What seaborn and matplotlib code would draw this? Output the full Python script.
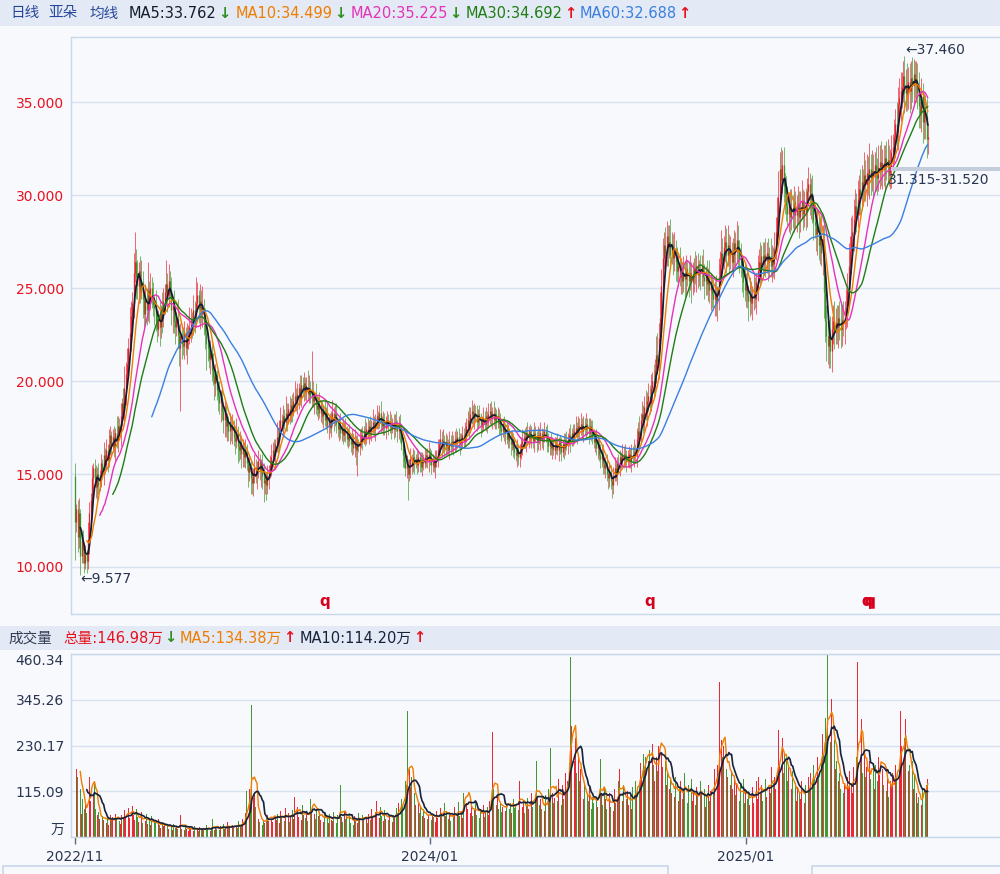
import numpy as np
import pandas as pd
import matplotlib
matplotlib.use("Agg")
import matplotlib.pyplot as plt
import matplotlib.patheffects as pe
import seaborn as sns
from matplotlib.patches import Rectangle

# ---------------- data ----------------
CLOSE = [
    12.4, 13.1, 11.6, 12.9, 10.6, 11.4, 10.9, 10.2, 10.7, 10.3,
    11.5, 12.9, 13.6, 14.8, 15.3, 14.7, 14.3, 15.0, 14.4, 14.9,
    15.6, 15.2, 16.0, 15.5, 16.3, 15.8, 16.6, 17.1, 16.5, 17.0,
    16.4, 17.2, 16.8, 17.6, 17.3, 18.1, 18.8, 18.4, 19.6, 20.4,
    20.9, 21.8, 22.6, 23.5, 24.2, 25.8, 26.4, 25.6, 25.1, 25.9,
    24.8, 25.3, 24.4, 23.6, 24.3, 23.8, 24.9, 24.2, 25.0, 24.6,
    24.1, 23.9, 23.2, 22.8, 23.5, 22.9, 23.6, 23.4, 24.3, 24.8,
    25.2, 24.6, 25.4, 24.9, 23.8, 24.1, 23.2, 22.9, 23.4, 22.5,
    21.8, 22.4, 22.0, 21.9, 22.6, 21.8, 22.3, 22.5, 22.9, 23.3,
    23.0, 23.8, 23.5, 24.2, 24.6, 23.9, 24.3, 23.6, 23.9, 23.1,
    22.6, 22.0, 21.8, 21.2, 21.5, 20.6, 20.2, 19.9, 20.3, 19.5,
    19.2, 18.8, 19.1, 18.4, 17.9, 18.3, 17.6, 17.8, 17.3, 17.7,
    17.4, 17.6, 17.0, 16.8, 17.2, 16.5, 16.3, 16.7, 16.1, 16.4,
    15.9, 16.2, 15.6, 15.1, 15.4, 14.8, 14.5, 14.9, 15.3, 15.0,
    15.4, 15.7, 15.2, 15.6, 14.9, 14.5, 14.7, 14.4, 14.9, 15.2,
    15.5, 15.9, 16.3, 16.0, 16.6, 17.0, 16.8, 17.5, 17.9, 17.6,
    18.1, 17.8, 18.3, 18.0, 18.5, 18.2, 18.7, 18.4, 18.9, 19.2,
    18.8, 19.3, 19.6, 19.1, 19.8, 19.5, 19.9, 19.4, 19.7, 19.3,
    19.6, 19.2, 19.4, 18.9, 19.1, 18.7, 18.5, 18.8, 18.3, 18.5,
    18.1, 18.4, 17.9, 18.2, 17.6, 17.8, 17.5, 18.0, 18.3, 17.9,
    18.2, 17.7, 17.4, 17.6, 17.2, 17.5, 17.1, 17.4, 17.3, 16.9,
    17.1, 16.8, 16.6, 16.9, 16.4, 16.7, 16.3, 16.6, 16.5, 16.8,
    17.1, 16.9, 17.3, 17.0, 17.4, 17.2, 17.6, 17.3, 17.5, 17.8,
    17.4, 17.7, 18.1, 17.9, 18.3, 17.8, 17.6, 17.9, 17.5, 17.8,
    17.9, 17.6, 17.8, 17.5, 17.7, 17.4, 17.8, 17.6, 17.3, 17.7,
    17.2, 16.6, 16.0, 15.7, 15.3, 15.5, 15.0, 15.4, 15.8, 15.5,
    15.9, 15.6, 15.8, 15.5, 15.9, 15.7, 15.4, 15.8, 15.6, 15.9,
    16.0, 15.7, 16.1, 15.8, 15.5, 15.7, 15.4, 15.8, 15.9, 16.3,
    16.6, 16.9, 16.5, 16.8, 16.4, 16.7, 16.6, 16.3, 16.7, 16.5,
    16.8, 16.6, 16.9, 16.7, 17.0, 16.8, 16.6, 16.9, 17.1, 16.8,
    17.2, 17.6, 17.9, 17.5, 18.2, 18.4, 18.0, 18.3, 18.1, 17.8,
    18.2, 17.9, 17.6, 17.8, 18.0, 17.7, 18.1, 17.8, 18.2, 18.4,
    18.0, 18.3, 17.9, 18.2, 17.8, 18.1, 17.7, 17.5, 17.3, 17.6,
    17.2, 17.4, 16.9, 17.1, 16.8, 16.6, 16.9, 16.4, 16.2, 16.0,
    16.3, 15.9, 16.1, 16.6, 16.8, 17.0, 16.7, 17.2, 17.0, 17.3,
    16.9, 17.1, 16.8, 17.2, 17.0, 16.7, 17.1, 16.9, 17.2, 16.8,
    17.0, 17.3, 17.1, 16.8, 16.5, 16.7, 16.4, 16.6, 16.3, 16.5,
    16.6, 16.3, 16.7, 16.5, 16.2, 16.6, 16.4, 16.8, 16.6, 16.9,
    17.1, 16.8, 17.2, 17.0, 17.3, 17.5, 17.2, 17.6, 17.4, 17.7,
    17.3, 17.6, 17.4, 17.7, 17.5, 17.2, 17.6, 17.3, 17.0, 16.7,
    16.9, 16.4, 16.6, 16.0, 15.8, 16.1, 15.6, 15.3, 15.5, 15.0,
    14.8, 15.1, 14.6, 14.4, 14.9, 15.3, 15.0, 15.6, 15.4, 15.9,
    15.7, 16.1, 15.8, 16.0, 15.7, 15.8, 16.1, 15.7, 16.0, 15.9,
    16.2, 16.0, 16.9, 17.3, 17.1, 17.9, 18.2, 17.8, 18.6, 18.3,
    18.9, 19.2, 18.8, 19.6, 20.0, 19.7, 20.6, 21.4, 21.0, 22.3,
    23.4, 25.1, 26.6, 27.3, 26.9, 27.8, 27.2, 27.5, 26.8, 27.3,
    26.6, 27.1, 26.4, 25.9, 26.2, 25.6, 25.9, 25.4, 25.8, 25.5,
    26.0, 25.7, 25.4, 25.8, 25.3, 25.6, 26.1, 25.8, 26.2, 25.7,
    26.0, 25.8, 26.2, 25.6, 25.4, 25.7, 25.2, 25.5, 24.9, 25.1,
    24.7, 24.4, 24.8, 24.2, 24.6, 25.6, 26.3, 26.9, 26.5, 27.2,
    27.5, 26.8, 27.3, 26.7, 27.0, 26.4, 26.8, 27.4, 27.1, 27.6,
    27.0, 26.5, 26.2, 25.8, 25.3, 24.9, 25.2, 24.6, 24.3, 24.7,
    24.2, 24.5, 24.8, 24.4, 25.3, 25.9, 26.4, 26.0, 26.7, 26.3,
    26.8, 26.5, 26.9, 26.4, 26.7, 26.2, 26.6, 26.3, 27.1, 28.0,
    28.8, 29.9, 31.4, 30.8, 31.6, 30.5, 30.1, 29.4, 29.0, 29.5,
    28.8, 29.3, 29.0, 29.6, 28.9, 29.2, 29.5, 28.8, 29.3, 29.7,
    29.0, 29.4, 29.1, 30.2, 30.6, 29.8, 30.1, 29.3, 28.6, 28.4,
    27.9, 28.2, 27.3, 27.8, 26.9, 27.6, 24.8, 23.2, 22.4, 21.9,
    22.5, 21.6, 22.8, 23.2, 22.7, 23.1, 22.9, 23.4, 23.0, 22.8,
    23.3, 23.1, 23.6, 23.9, 24.9, 26.2, 27.0, 27.8, 28.0, 28.7,
    29.4, 29.0, 29.8, 30.3, 30.0, 30.7, 30.4, 31.1, 30.6, 31.2,
    30.8, 31.4, 30.9, 31.3, 31.0, 31.6, 31.2, 30.9, 31.5, 31.8,
    31.3, 31.7, 31.4, 32.0, 31.6, 31.9, 31.2, 31.5, 32.3, 32.6,
    33.1, 33.8, 33.4, 34.9, 35.2, 35.6, 35.8, 36.4, 35.5, 35.9,
    35.4, 36.1, 35.6, 36.3, 35.9, 36.5, 36.0, 36.2, 35.5, 34.8,
    34.4, 35.3, 33.9, 34.6, 34.2, 33.0, 33.1,
]
FIRST_OPEN = 14.9

# upper / lower shadow lengths in tenths of a yuan
UPPER_WICK = [
    7,3,5,8,2,4,6,3,5,2, 9,6,4,7,3,5,8,4,6,3, 5,2,7,4,6,3,8,5,2,4,
    6,3,9,5,4,7,3,8,12,6, 9,5,14,8,6,11,16,7,9,5, 8,12,6,4,9,7,15,5,8,6,
    7,4,10,6,3,8,5,12,7,4, 13,6,9,5,7,4,8,6,3,10, 5,7,4,9,6,3,8,5,11,6,
    4,8,5,14,7,3,9,6,12,5, 8,4,6,3,7,5,9,4,6,3, 5,8,4,6,3,7,4,5,3,6,
    4,6,3,5,8,4,3,6,4,5, 3,7,4,2,5,3,6,4,8,5, 3,6,4,2,5,7,3,4,6,3,
    5,7,4,6,3,8,5,4,7,3, 6,4,9,5,3,7,4,6,5,8, 4,6,3,7,5,4,6,3,5,9,
    7,4,22,6,3,8,5,3,6,4, 5,3,7,4,6,3,5,4,7,3, 5,6,3,4,7,3,5,4,6,3,
    4,6,3,5,3,7,4,5,3,6, 4,5,3,7,4,6,3,5,4,7, 3,5,6,3,4,6,3,5,4,3,
    5,3,6,4,3,5,4,6,3,4, 5,3,4,6,3,5,3,4,6,3, 5,4,3,6,4,3,5,4,3,5,
    3,4,6,3,5,4,3,5,4,6, 3,5,4,6,3,5,4,3,6,4, 5,3,4,6,3,5,4,3,5,4,
    6,4,5,7,4,6,3,5,4,6, 3,5,4,3,6,4,5,3,6,4, 5,3,6,4,3,5,4,6,3,4,
    5,3,4,6,3,5,4,3,5,4, 6,3,5,4,6,3,5,4,6,3, 4,5,3,6,4,3,5,4,6,3,
    4,5,3,6,4,3,5,4,3,5, 4,6,3,4,5,3,6,4,5,3, 4,6,3,5,4,6,3,5,4,6,
    3,5,4,6,3,5,4,3,6,4, 3,5,4,3,6,4,5,3,4,6, 3,5,4,3,5,6,4,3,5,4,
    3,5,4,6,3,5,4,3,6,5, 7,4,6,5,8,4,7,5,6,9, 5,7,6,8,5,9,6,10,12,8,
    14,9,11,7,10,8,6,9,12,7, 6,9,5,8,6,10,7,5,9,6, 8,5,7,10,6,8,5,9,6,7,
    5,8,6,9,7,5,8,6,10,7, 5,8,6,9,5,10,7,12,8,6, 9,7,11,6,8,5,9,7,6,10,
    8,6,9,5,7,10,6,8,5,9, 7,6,10,8,5,9,7,11,6,8, 7,9,6,8,5,10,7,6,9,8,
    11,14,9,12,8,10,7,9,11,6, 8,10,7,9,6,8,10,7,9,11, 6,8,10,7,9,6,8,10,7,9,
    8,10,7,9,11,8,10,12,9,11, 8,10,7,9,11,8,10,7,9,12, 8,10,7,11,9,12,8,10,9,11,
    9,7,10,8,11,9,7,12,8,10, 9,14,8,11,9,7,10,8,12,9, 11,8,10,7,9,11,8,10,9,7,
    10,8,12,9,11,10,8,8,19,9, 12,8,10,9,11,8,7,10,9,11, 8,10,7,9,8,10,7,
]
LOWER_WICK = [
    20,5,8,6,10,4,7,5,3,6, 4,8,5,3,7,4,6,9,5,3, 6,4,8,5,3,7,4,6,5,3,
    5,7,4,6,3,8,5,4,6,9, 5,7,4,10,6,8,5,12,7,9, 6,4,10,7,5,8,6,11,4,7,
    6,9,5,7,4,10,6,8,5,7, 4,9,6,5,8,12,6,9,5,7, 10,34,8,5,7,4,9,6,5,8,
    7,5,9,6,4,8,11,5,7,6, 9,14,7,5,8,6,4,9,7,5, 8,6,10,5,7,9,6,8,5,7,
    6,8,5,7,4,9,6,5,8,7, 5,6,4,8,5,9,6,7,4,5, 8,6,5,9,7,10,6,8,5,7,
    4,6,5,3,7,4,6,5,4,3, 6,4,5,7,3,5,4,6,3,5, 4,6,8,4,5,3,6,4,5,3,
    5,4,6,3,7,5,4,6,3,5, 4,6,3,5,4,7,3,5,4,6, 3,5,4,6,3,4,5,3,6,4,
    5,3,4,6,3,5,8,14,3,5, 4,6,3,5,4,3,6,4,5,3, 4,6,3,5,4,6,3,5,4,6,
    3,5,4,6,3,5,4,3,6,4, 5,3,6,4,4,5,14,4,6,5, 4,6,3,5,4,6,3,5,4,3,
    5,4,6,3,5,4,3,6,4,5, 3,4,6,3,5,4,6,3,5,4, 3,6,4,5,3,4,6,3,5,4,
    3,5,4,6,3,5,4,6,3,5, 4,3,6,4,5,3,4,6,3,5, 4,6,3,5,4,3,6,4,5,3,
    4,6,3,5,4,6,3,5,4,3, 6,4,5,3,6,4,3,5,4,6, 3,5,4,6,3,5,4,3,6,4,
    5,3,4,6,3,5,4,6,3,5, 4,3,6,4,5,3,6,4,3,5, 4,6,3,5,4,3,6,4,5,3,
    4,6,3,5,4,6,3,5,4,3, 5,4,6,3,5,4,6,3,5,4, 6,5,4,7,5,3,4,6,3,5,
    4,3,5,4,6,3,5,4,6,3, 5,4,6,3,7,5,4,6,5,4, 7,5,6,4,8,6,5,7,6,9,
    7,10,8,6,9,7,10,6,8,5, 9,7,10,6,8,5,9,7,6,10, 8,6,9,5,11,7,8,6,10,7,
    6,9,7,5,10,8,6,9,7,11, 8,6,9,7,10,8,6,9,7,5, 8,10,6,9,7,5,8,6,10,7,
    9,7,6,10,8,6,9,7,11,8, 6,9,7,5,8,10,6,9,7,8, 6,9,7,10,8,6,9,7,8,6,
    7,9,8,10,7,9,11,8,6,10, 9,7,8,10,6,9,7,11,8,6, 9,7,10,8,6,9,11,8,10,7,
    9,11,8,10,7,12,14,11,13,10, 12,9,11,8,10,7,9,11,8,10, 9,7,11,8,10,9,7,12,8,10,
    8,10,7,9,11,8,10,7,9,12, 8,10,9,7,11,8,10,9,7,12, 8,10,9,11,8,10,7,9,11,8,
    9,11,8,10,7,12,9,8,11,10, 9,8,12,10,9,11,8,10,9,12, 8,10,11,9,12,10,8,
]
HIGH_MARK = (638, 37.460)
LOW_MARK = (4, 9.577)

# volume, unit: 万 (10k shares)
VOLUME = [
    187, 172, 150, 197, 120, 58, 95, 70, 85, 60,
    110, 152, 90, 215, 105, 134, 70, 55, 62, 45,
    38, 52, 44, 60, 35, 48, 30, 56, 42, 50,
    36, 58, 45, 62, 40, 33, 55, 47, 68, 52,
    60, 72, 48, 65, 78, 55, 42, 70, 50, 38,
    45, 62, 35, 50, 40, 58, 33, 47, 30, 52,
    28, 40, 35, 25, 45, 30, 22, 38, 27, 33,
    24, 30, 20, 35, 26, 18, 32, 22, 28, 19,
    25, 55, 21, 30, 18, 26, 20, 16, 24, 19,
    22, 15, 28, 18, 21, 14, 25, 17, 20, 23,
    16, 30, 19, 24, 15, 22, 45, 18, 26, 20,
    23, 17, 28, 21, 32, 19, 25, 38, 22, 27,
    20, 30, 24, 35, 28, 22, 40, 26, 33, 45,
    38, 60, 115, 85, 120, 95, 331, 99, 110, 75,
    60, 45, 38, 52, 30, 42, 35, 48, 55, 40,
    62, 45, 38, 70, 50, 42, 58, 36, 65, 48,
    55, 40, 72, 46, 60, 38, 52, 68, 45, 100,
    58, 76, 50, 62, 44, 80, 55, 48, 66, 40,
    72, 95, 60, 130, 58, 45, 70, 52, 64, 42,
    55, 38, 60, 47, 52, 36, 58, 44, 40, 62,
    48, 35, 55, 42, 130, 50, 38, 62, 45, 54,
    40, 58, 35, 48, 30, 52, 42, 36, 60, 45,
    38, 55, 42, 65, 48, 36, 58, 44, 70, 50,
    46, 62, 90, 55, 48, 75, 52, 40, 68, 45,
    58, 42, 50, 65, 38, 55, 48, 72, 60, 85,
    70, 95, 80, 110, 140, 130, 316, 170, 125, 150,
    95, 110, 80, 70, 88, 60, 75, 52, 68, 48,
    62, 45, 55, 70, 42, 58, 50, 38, 65, 47,
    55, 72, 60, 48, 85, 52, 66, 45, 58, 40,
    62, 50, 75, 45, 58, 88, 52, 66, 48, 110,
    200, 85, 70, 95, 60, 78, 52, 68, 90, 55,
    72, 48, 65, 58, 80, 50, 62, 75, 55, 90,
    110, 263, 120, 95, 80, 105, 70, 88, 62, 75,
    90, 65, 78, 110, 70, 85, 60, 95, 72, 80,
    105, 68, 140, 85, 75, 92, 60, 78, 98, 70,
    85, 110, 75, 120, 90, 190, 100, 80, 95, 70,
    88, 65, 105, 78, 120, 95, 225, 110, 85, 98,
    120, 90, 145, 105, 80, 130, 95, 160, 110, 140,
    200, 453, 280, 230, 190, 250, 160, 210, 140, 170,
    120, 95, 135, 80, 110, 90, 125, 70, 100, 85,
    115, 90, 75, 130, 195, 105, 80, 120, 95, 70,
    88, 110, 75, 98, 65, 120, 85, 100, 140, 170,
    110, 90, 130, 75, 95, 115, 80, 105, 70, 125,
    95, 140, 110, 165, 130, 185, 150, 210, 175, 200,
    258, 190, 220, 160, 235, 180, 140, 200, 165, 230,
    377, 210, 175, 150, 190, 130, 160, 120, 145, 110,
    135, 100, 150, 115, 90, 125, 140, 95, 110, 160,
    120, 85, 130, 100, 145, 90, 115, 80, 125, 105,
    95, 140, 110, 85, 120, 75, 105, 130, 90, 115,
    150, 110, 170, 135, 180, 160, 390, 245, 200, 230,
    190, 170, 150, 210, 130, 165, 120, 145, 105, 135,
    115, 90, 130, 100, 145, 85, 120, 95, 110, 80,
    100, 125, 85, 115, 140, 95, 150, 110, 130, 90,
    120, 145, 100, 160, 125, 110, 175, 135, 150, 120,
    200, 270, 180, 230, 250, 160, 210, 190, 140, 175,
    150, 120, 165, 100, 135, 90, 125, 110, 95, 140,
    115, 85, 130, 105, 150, 120, 160, 135, 180, 145,
    170, 200, 150, 230, 190, 260, 210, 300, 245, 460.34,
    280, 240, 346, 200, 245, 170, 190, 140, 160, 120,
    145, 110, 135, 95, 150, 120, 165, 130, 110, 175,
    140, 200, 440, 230, 185, 296, 160, 210, 150, 175,
    130, 190, 145, 220, 165, 120, 180, 140, 200, 155,
    270, 170, 130, 185, 115, 150, 100, 140, 125, 160,
    135, 180, 150, 210, 170, 316, 230, 185, 250, 296,
    200, 165, 180, 140, 190, 120, 155, 110, 85, 100,
    95.1, 80.0, 120, 155.9, 118, 131, 146.98,
]

TICK_POS = [0, 273, 516]
TICK_LABELS = ["2022/11", "2024/01", "2025/01"]
PRICE_TICKS = [10, 15, 20, 25, 30, 35]
VOL_TICKS = [115.09, 230.17, 345.26, 460.34]
EVENT_POS = [192, 442, 611]
BAND = (31.315, 31.520)

MA_WINDOWS = [5, 10, 20, 30, 60]
MA_COLORS = ["#141c2e", "#f07c00", "#e632b8", "#1f7d14", "#3b7fe0"]
MA_WIDTHS = [1.3, 1.0, 1.0, 1.0, 1.0]

# ---------------- derived OHLC ----------------
n = min(len(CLOSE), len(UPPER_WICK), len(LOWER_WICK), len(VOLUME))
close = np.array(CLOSE[:n], dtype=float)
open_ = np.concatenate([[FIRST_OPEN], close[:-1]])
high = np.maximum(open_, close) + np.array(UPPER_WICK[:n]) / 10.0
low = np.minimum(open_, close) - np.array(LOWER_WICK[:n]) / 10.0
if HIGH_MARK[0] < n:
    high[HIGH_MARK[0]] = HIGH_MARK[1]
if LOW_MARK[0] < n:
    low[LOW_MARK[0]] = LOW_MARK[1]
vol = np.array(VOLUME[:n], dtype=float)
idx = np.arange(n)
up = close >= open_

RED = "#e8121e"
GREEN = "#2f8e1c"
BG = "#f7f9fd"
HEAD = "#e3eaf5"
GRID = "#d7e3f1"
SPINE = "#c9d7ea"
TXT = "#2a3550"

sns.set_theme(style="white")
plt.rcParams["font.family"] = ["DejaVu Sans", "Noto Sans CJK SC"]
plt.rcParams["axes.unicode_minus"] = False

W, H = 1000, 874
fig = plt.figure(figsize=(W / 100, H / 100), dpi=100, facecolor=BG)


def fy(py):
    return 1 - py / H


# header bars
fig.add_artist(Rectangle((0, fy(26)), 1, 26 / H, transform=fig.transFigure,
                         facecolor=HEAD, edgecolor="none", zorder=0))
fig.add_artist(Rectangle((0, fy(650)), 1, 24 / H, transform=fig.transFigure,
                         facecolor=HEAD, edgecolor="none", zorder=0))
# bottom toolbar stubs
fig.add_artist(Rectangle((3 / W, -0.01), 665 / W, fy(866) + 0.01, transform=fig.transFigure,
                         facecolor=BG, edgecolor=SPINE, lw=1.2, zorder=0))
fig.add_artist(Rectangle((812 / W, -0.01), 200 / W, fy(866) + 0.01, transform=fig.transFigure,
                         facecolor=BG, edgecolor=SPINE, lw=1.2, zorder=0))

ax = fig.add_axes([71 / W, fy(614), 929 / W, (614 - 37) / H])
axv = fig.add_axes([71 / W, fy(837), 929 / W, (837 - 654) / H])

XMIN, XMAX = -3.1, 711.5

# ---------------- price panel ----------------
ax.set_facecolor(BG)
cols = np.where(up, RED, GREEN)
ax.vlines(idx, low, high, colors=cols, lw=0.55, alpha=0.8, zorder=2)
btm = np.minimum(open_, close)
top = np.maximum(open_, close)
top = np.where(top - btm < 0.04, btm + 0.04, top)
ax.vlines(idx, btm, top, colors=cols, lw=0.95, alpha=0.85, zorder=2)

cs = pd.Series(close)
for w, c, lw in zip(MA_WINDOWS, MA_COLORS, MA_WIDTHS):
    d = pd.DataFrame({"x": idx, "y": cs.rolling(w).mean()}).dropna()
    sns.lineplot(data=d, x="x", y="y", ax=ax, color=c, lw=lw, estimator=None,
                 sort=False, zorder=3)

ax.set_xlim(XMIN, XMAX)
ax.set_ylim(7.473, 38.495)
ax.set_xlabel("")
ax.set_ylabel("")
ax.set_xticks([])
ax.set_yticks(PRICE_TICKS)
ax.set_yticklabels([f"{v:.3f}" for v in PRICE_TICKS])
ax.tick_params(axis="y", length=0, pad=5, labelsize=10, labelcolor=RED)
ax.grid(axis="y", color=GRID, lw=1.0)
ax.set_axisbelow(True)
for s in ["left", "top", "bottom"]:
    ax.spines[s].set_color(SPINE)
    ax.spines[s].set_linewidth(1.0)
ax.spines["right"].set_visible(False)

# price range band
ax.add_patch(Rectangle((628, BAND[0]), XMAX - 628, BAND[1] - BAND[0],
                       facecolor="#c3cddb", edgecolor="none", zorder=4))
ax.text(625, 30.80, f"{BAND[0]:.3f}-{BAND[1]:.3f}", fontsize=10, color=TXT,
        ha="left", va="center", zorder=5)

# extreme labels
ax.text(HIGH_MARK[0] + 0.5, HIGH_MARK[1] - 0.05, f"\u2190{HIGH_MARK[1]:.3f}", fontsize=10,
        color=TXT, ha="left", va="bottom", zorder=5)
ax.text(LOW_MARK[0], LOW_MARK[1] + 0.15, f"\u2190{LOW_MARK[1]:.3f}", fontsize=10,
        color=TXT, ha="left", va="top", zorder=5)

# event markers (the last one is a doubled marker)
for k, p in enumerate(EVENT_POS):
    effects = None
    if k == len(EVENT_POS) - 1:
        effects = [pe.withSimplePatchShadow(offset=(2.2, 0), shadow_rgbFace="#d6001c",
                                            alpha=1.0), pe.Normal()]
    ax.text(p - (1.5 if effects else 0), 8.17, "q", fontsize=11, fontweight="bold",
            color="#d6001c", ha="center", va="center", zorder=5, path_effects=effects)

# ---------------- volume panel ----------------
axv.set_facecolor(BG)
axv.bar(idx, vol, width=0.62, color=cols, linewidth=0, alpha=0.9, zorder=2)
vs = pd.Series(vol)
for w, c, lw in [(5, "#f07c00", 1.0), (10, "#17223b", 1.2)]:
    d = pd.DataFrame({"x": idx, "y": vs.rolling(w).mean()}).dropna()
    sns.lineplot(data=d, x="x", y="y", ax=axv, color=c, lw=lw, estimator=None,
                 sort=False, zorder=3)
axv.set_xlim(XMIN, XMAX)
axv.set_ylim(0, VOL_TICKS[-1])
axv.set_xlabel("")
axv.set_ylabel("")
axv.set_yticks([0] + VOL_TICKS)
labs = axv.set_yticklabels(["万"] + [f"{v:.2f}" for v in VOL_TICKS])
labs[0].set_va("bottom")
labs[-1].set_va("top")
axv.tick_params(axis="y", length=0, pad=5, labelsize=10, labelcolor=TXT)
axv.set_xticks(TICK_POS)
axv.set_xticklabels(TICK_LABELS)
axv.tick_params(axis="x", length=5, width=1, color="#5a6780", pad=4,
                labelsize=10, labelcolor=TXT, bottom=True)
axv.grid(axis="y", color=GRID, lw=1.0)
axv.set_axisbelow(True)
for s in ["left", "top", "bottom"]:
    axv.spines[s].set_color(SPINE)
    axv.spines[s].set_linewidth(1.0)
axv.spines["right"].set_visible(False)

# ---------------- header texts ----------------
renderer = fig.canvas.get_renderer()


def head(items, ypx):
    """items: (text, x start in px or None to follow previous, colour, bold)"""
    xcur = 0
    for txt, xpx, col, bold in items:
        x0 = xcur + 1 if xpx is None else xpx
        t = fig.text(x0 / W, fy(ypx), txt, color=col, fontsize=10.5, ha="left",
                     va="center", fontweight="bold" if bold else "normal")
        bb = t.get_window_extent(renderer=renderer)
        xcur = bb.x1


head([
    ("日线", 10, "#27489a", False),
    ("亚朵", 48, "#27489a", False),
    ("均线", 89, "#27489a", False),
    ("MA5:33.762", 129, "#141c2e", False),
    ("\u2193", None, GREEN, True),
    ("MA10:34.499", 236, "#f07c00", False),
    ("\u2193", None, GREEN, True),
    ("MA20:35.225", 351, "#e632b8", False),
    ("\u2193", None, GREEN, True),
    ("MA30:34.692", 466, "#1f7d14", False),
    ("\u2191", None, RED, True),
    ("MA60:32.688", 580, "#3b7fe0", False),
    ("\u2191", None, RED, True),
], 13)

head([
    ("成交量", 8, "#333d55", False),
    ("总量:146.98万", 63, RED, False),
    ("\u2193", None, GREEN, True),
    ("MA5:134.38万", 180, "#f07c00", False),
    ("\u2191", None, RED, True),
    ("MA10:114.20万", 300, "#17223b", False),
    ("\u2191", None, RED, True),
], 638)

fig.savefig("out.png", dpi=100, facecolor=BG)
